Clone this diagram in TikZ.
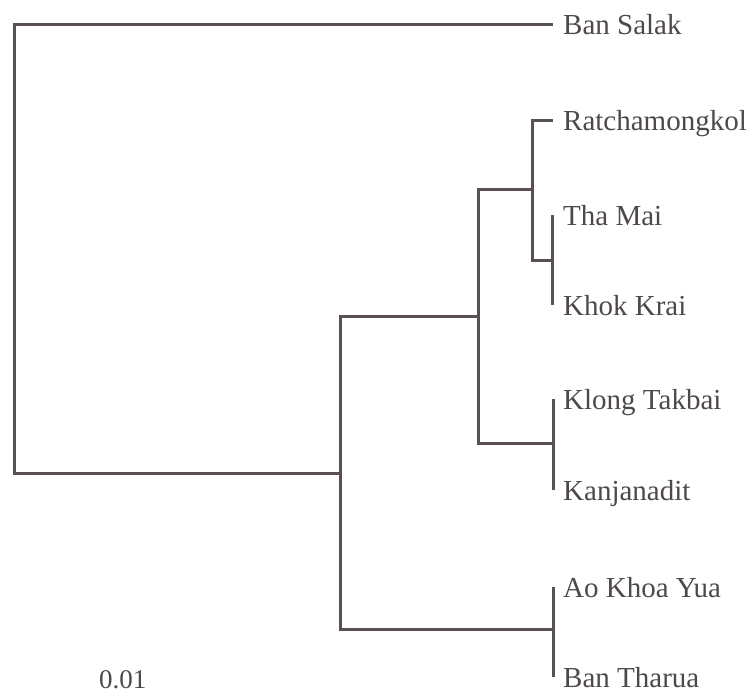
\documentclass[tikz,border=0pt]{standalone}
\usepackage{fontspec}
\setmainfont{Liberation Serif}
\definecolor{branch}{RGB}{88,80,86}
\definecolor{ink}{RGB}{78,72,76}
\begin{document}
\begin{tikzpicture}[x=1pt,y=-1pt,
  branchline/.style={draw=branch,line width=3pt,line join=miter},
  taxon/.style={anchor=base west,text=ink,inner sep=0pt,
    font=\fontsize{29}{29}\selectfont},
  scalelabel/.style={anchor=base west,text=ink,inner sep=0pt,
    font=\fontsize{27}{27}\selectfont}]
\useasboundingbox (0,0) rectangle (749,693);

% internal nodes of the tree
\coordinate (root) at (14,249);
\coordinate (nA) at (340,473);
\coordinate (nB) at (478,316);
\coordinate (nC) at (532,189);
\coordinate (nD) at (552,260);
\coordinate (nE) at (553,443);
\coordinate (nF) at (553,629);

% branch tips
\coordinate (tSalak)  at (553,25);
\coordinate (tRatcha) at (553,120);
\coordinate (tThaMai) at (552,215);
\coordinate (tKhok)   at (552,305);
\coordinate (tKlong)  at (553,399);
\coordinate (tKanj)   at (553,490);
\coordinate (tAo)     at (553,587);
\coordinate (tTharua) at (553,677);

% branches
\draw[branchline] (tSalak) -| (root) |- (nA);
\draw[branchline] (nB) -| (nA) |- (nF);
\draw[branchline] (nC) -| (nB) |- (nE);
\draw[branchline] (tRatcha) -| (nC) |- (nD);
\draw[branchline] (tThaMai) -- (tKhok);
\draw[branchline] (tKlong) -- (tKanj);
\draw[branchline] (tAo) -- (tTharua);

% taxon labels
\node[taxon] (lSalak)  at (563,35)  {Ban Salak};
\node[taxon] (lRatcha) at (563,130) {Ratchamongkol};
\node[taxon] (lThaMai) at (563,225) {Tha Mai};
\node[taxon] (lKhok)   at (563,315) {Khok Krai};
\node[taxon] (lKlong)  at (563,409) {Klong Takbai};
\node[taxon] (lKanj)   at (563,500) {Kanjanadit};
\node[taxon] (lAo)     at (563,597) {Ao Khoa Yua};
\node[taxon] (lTharua) at (563,687) {Ban Tharua};

% scale value
\node[scalelabel] (scale) at (99,688) {0.01};
\end{tikzpicture}
\end{document}
